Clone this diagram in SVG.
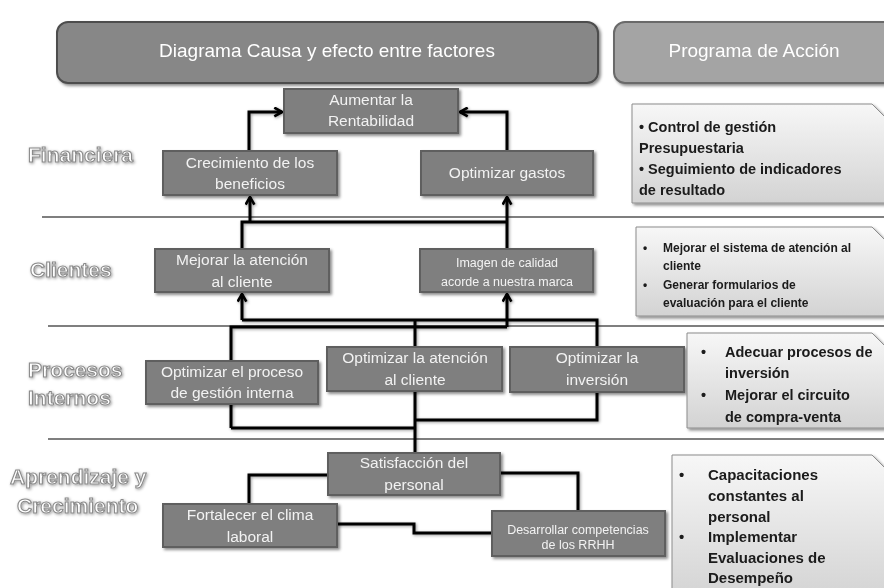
<svg xmlns="http://www.w3.org/2000/svg" width="884" height="588" viewBox="0 0 884 588">
<defs>
<style>
.hdr1{fill:#878787;stroke:#4d4d4d;stroke-width:2}
.hdr2{fill:#a4a4a4;stroke:#6a6a6a;stroke-width:2}
.hdrt{font-family:"Liberation Sans",Arial,sans-serif;font-size:19px;fill:#ffffff;text-anchor:middle}
.node{fill:#7f7f7f;stroke:#5e5e5e;stroke-width:2}
.nt{font-family:"Liberation Sans",Arial,sans-serif;font-size:15.5px;fill:#f2f2f2;text-anchor:middle}
.nts{font-family:"Liberation Sans",Arial,sans-serif;font-size:12.5px;fill:#f2f2f2;text-anchor:middle}
.lbl{font-family:"Liberation Sans",Arial,sans-serif;font-weight:bold;font-size:21px;fill:#ffffff;stroke:#8a8a8a;stroke-width:1.1}
.sep{stroke:#555555;stroke-width:1.5;fill:none}
.act{fill:url(#ag);stroke:#8c8c8c;stroke-width:1}
.at{font-family:"Liberation Sans",Arial,sans-serif;font-weight:bold;fill:#1a1a1a}
.con{fill:none;stroke:#000000;stroke-width:3}
</style>
<linearGradient id="ag" x1="0" y1="0" x2="0" y2="1">
<stop offset="0" stop-color="#f7f7f7"/>
<stop offset="1" stop-color="#d3d3d3"/>
</linearGradient>
<filter id="sh" x="-10%" y="-10%" width="130%" height="140%">
<feDropShadow dx="2" dy="2" stdDeviation="1.5" flood-color="#000" flood-opacity="0.45"/>
</filter>
<filter id="lsh" x="-10%" y="-10%" width="130%" height="130%">
<feDropShadow dx="1" dy="1" stdDeviation="1.6" flood-color="#000" flood-opacity="0.4"/>
</filter>
<marker id="arr" viewBox="0 0 10 10" refX="8.5" refY="5" markerWidth="11" markerHeight="11" markerUnits="userSpaceOnUse" orient="auto">
<path d="M1.5,1 L8.5,5 L1.5,9" fill="none" stroke="#000" stroke-width="2.4"/>
</marker>
</defs>

<rect width="884" height="588" fill="#ffffff"/>

<g id="header-diagrama" filter="url(#sh)">
<rect class="hdr1" x="57" y="22" width="541" height="61" rx="11"/>
<text class="hdrt" x="327" y="57">Diagrama Causa y efecto entre factores</text>
</g>
<g id="header-programa" filter="url(#sh)">
<rect class="hdr2" x="614" y="22" width="290" height="61" rx="11"/>
<text class="hdrt" x="754" y="57">Programa de Acción</text>
</g>

<g id="separators">
<line class="sep" x1="42" y1="217" x2="884" y2="217"/>
<line class="sep" x1="48" y1="326" x2="884" y2="326"/>
<line class="sep" x1="48" y1="439" x2="884" y2="439"/>
</g>

<g id="labels" filter="url(#lsh)">
<text class="lbl" x="28" y="162">Financiera</text>
<text class="lbl" x="30" y="277">Clientes</text>
<text class="lbl" x="28" y="377">Procesos</text>
<text class="lbl" x="28" y="405">Internos</text>
<text class="lbl" x="10" y="484">Aprendizaje y</text>
<text class="lbl" x="17" y="513">Crecimiento</text>
</g>

<g id="connectors" filter="url(#lsh)">
<path class="con" d="M249,151 V112 H282" marker-end="url(#arr)"/>
<path class="con" d="M507,151 V112 H460" marker-end="url(#arr)"/>
<path class="con" d="M242,249 V222 H507"/>
<path class="con" d="M250,222 V197" marker-end="url(#arr)"/>
<path class="con" d="M507,249 V197" marker-end="url(#arr)"/>
<path class="con" d="M415,453 V320"/>
<path class="con" d="M242,320 H597 V420 H415"/>
<path class="con" d="M231,428 V327 H507"/>
<path class="con" d="M231,428 H415"/>
<path class="con" d="M242,320 V294" marker-end="url(#arr)"/>
<path class="con" d="M507,327 V294" marker-end="url(#arr)"/>
<path class="con" d="M328,475 H249 V504"/>
<path class="con" d="M500,473 H578 V511"/>
<path class="con" d="M337,524 H414 V533 H492"/>
</g>

<g id="n-aumentar" filter="url(#sh)">
<rect class="node" x="284" y="89" width="174" height="44"/>
<text class="nt" x="371" y="105">Aumentar la</text>
<text class="nt" x="371" y="126">Rentabilidad</text>
</g>
<g id="n-crecimiento" filter="url(#sh)">
<rect class="node" x="163" y="151" width="174" height="44"/>
<text class="nt" x="250" y="168">Crecimiento de los</text>
<text class="nt" x="250" y="189">beneficios</text>
</g>
<g id="n-gastos" filter="url(#sh)">
<rect class="node" x="421" y="151" width="172" height="44"/>
<text class="nt" x="507" y="178">Optimizar gastos</text>
</g>
<g id="n-mejorar" filter="url(#sh)">
<rect class="node" x="155" y="249" width="174" height="43"/>
<text class="nt" x="242" y="265">Mejorar la atención</text>
<text class="nt" x="242" y="287">al cliente</text>
</g>
<g id="n-imagen" filter="url(#sh)">
<rect class="node" x="420" y="249" width="173" height="43"/>
<text class="nts" x="507" y="267">Imagen de calidad</text>
<text class="nts" x="507" y="286">acorde a nuestra marca</text>
</g>
<g id="n-proceso" filter="url(#sh)">
<rect class="node" x="146" y="361" width="172" height="43"/>
<text class="nt" x="232" y="377">Optimizar el proceso</text>
<text class="nt" x="232" y="398">de gestión interna</text>
</g>
<g id="n-atencion" filter="url(#sh)">
<rect class="node" x="327" y="347" width="175" height="44"/>
<text class="nt" x="415" y="363">Optimizar la atención</text>
<text class="nt" x="415" y="385">al cliente</text>
</g>
<g id="n-inversion" filter="url(#sh)">
<rect class="node" x="510" y="347" width="174" height="45"/>
<text class="nt" x="597" y="363">Optimizar la</text>
<text class="nt" x="597" y="385">inversión</text>
</g>
<g id="n-satisfaccion" filter="url(#sh)">
<rect class="node" x="328" y="453" width="172" height="42"/>
<text class="nt" x="414" y="468">Satisfacción del</text>
<text class="nt" x="414" y="490">personal</text>
</g>
<g id="n-fortalecer" filter="url(#sh)">
<rect class="node" x="163" y="504" width="174" height="43"/>
<text class="nt" x="250" y="520">Fortalecer el clima</text>
<text class="nt" x="250" y="542">laboral</text>
</g>
<g id="n-desarrollar" filter="url(#sh)">
<rect class="node" x="492" y="511" width="173" height="45"/>
<text class="nts" x="578" y="534">Desarrollar competencias</text>
<text class="nts" x="578" y="549">de los RRHH</text>
</g>

<g id="act-financiera" filter="url(#sh)">
<path class="act" d="M632,104 H872 L896,128 V203 H632 Z"/>
<text class="at" font-size="14.5"><tspan x="639" y="132">• Control de gestión</tspan><tspan x="639" y="153">Presupuestaria</tspan><tspan x="639" y="174">• Seguimiento de indicadores</tspan><tspan x="639" y="195">de resultado</tspan></text>
</g>
<g id="act-clientes" filter="url(#sh)">
<path class="act" d="M636,227 H872 L896,251 V316 H636 Z"/>
<text class="at" font-size="12"><tspan x="643" y="252">•</tspan><tspan x="663" y="252">Mejorar el sistema de atención al</tspan><tspan x="663" y="270">cliente</tspan><tspan x="643" y="289">•</tspan><tspan x="663" y="289">Generar formularios de</tspan><tspan x="663" y="307">evaluación para el cliente</tspan></text>
</g>
<g id="act-procesos" filter="url(#sh)">
<path class="act" d="M687,333 H872 L896,357 V428 H687 Z"/>
<text class="at" font-size="14.5"><tspan x="701" y="357">•</tspan><tspan x="725" y="357">Adecuar procesos de</tspan><tspan x="725" y="378">inversión</tspan><tspan x="701" y="400">•</tspan><tspan x="725" y="400">Mejorar el circuito</tspan><tspan x="725" y="422">de compra-venta</tspan></text>
</g>
<g id="act-aprendizaje" filter="url(#sh)">
<path class="act" d="M672,455 H872 L896,479 V600 H672 Z"/>
<text class="at" font-size="15"><tspan x="679" y="480">•</tspan><tspan x="708" y="480">Capacitaciones</tspan><tspan x="708" y="501">constantes al</tspan><tspan x="708" y="522">personal</tspan><tspan x="679" y="542">•</tspan><tspan x="708" y="542">Implementar</tspan><tspan x="708" y="563">Evaluaciones de</tspan><tspan x="708" y="583">Desempeño</tspan></text>
</g>
</svg>
